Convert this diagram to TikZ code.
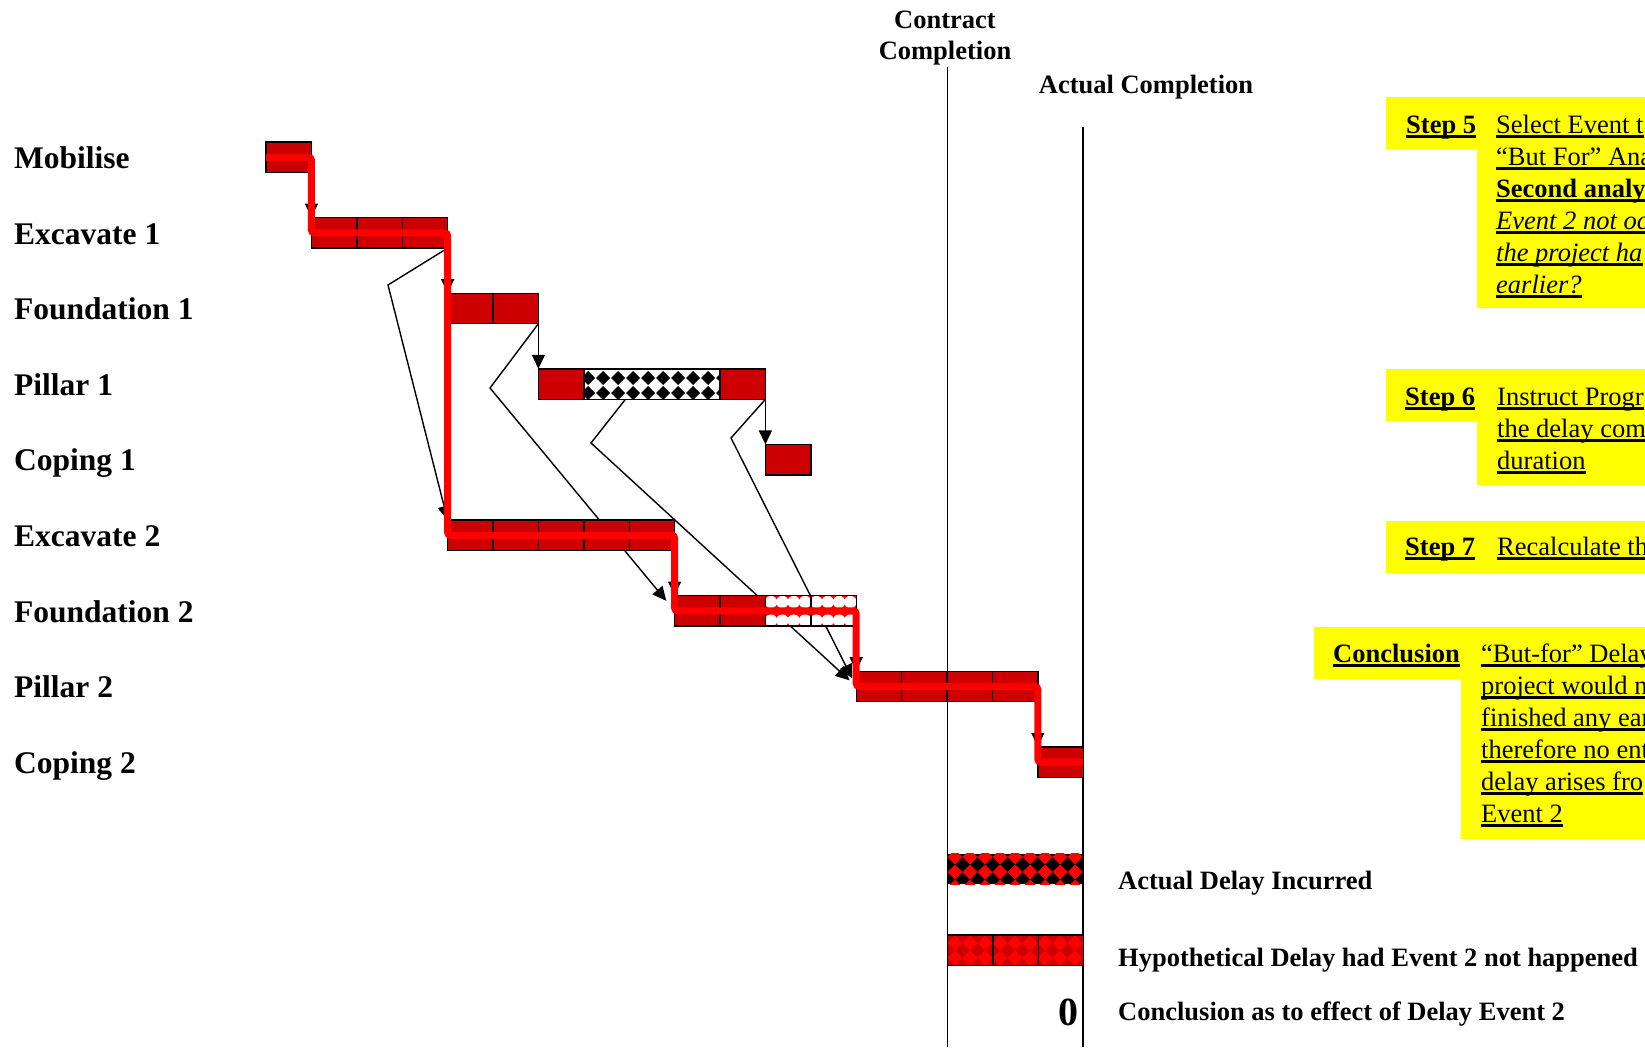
\documentclass[tikz,border=0pt]{standalone}
\usepackage{fontspec}
\setmainfont{Liberation Serif}
\usetikzlibrary{arrows.meta,calc}
\definecolor{barred}{HTML}{CC0000}
\definecolor{pathred}{HTML}{FF0000}
\definecolor{noteyellow}{HTML}{FFFF00}
\pgfdeclarelayer{links}
\pgfsetlayers{links,main}
% programme grid: cell width, origin, row pitch, bar height
\newcommand\gcw{45.4}
\newcommand\gxo{266}
\newcommand\gyo{142}
\newcommand\grs{75.6}
\newcommand\gbh{30.5}
% #1 name, #2 first cell, #3 number of cells, #4 row
\newcommand\gbar[4]{\node[barbox, minimum width={#3*\gcw pt}] (#1) at ({\gxo+#2*\gcw},{\gyo+#4*\grs}) {};}
% cell dividers inside a bar
\newcommand\gdivs[2]{\foreach \gi in {#2}{\draw[cellline] ($(#1.north west)+({\gi*\gcw},0)$) -- ++(0,\gbh);}}
% diamond hatching: corners, background, diamond colour, first centre, half diagonal
\newcommand\dpattern[9]{%
  \begin{scope}
    \clip (#1,#2) rectangle (#3,#4);
    \fill[#5] (#1,#2) rectangle (#3,#4);
    \foreach \pcol in {-1,...,10}{\foreach \prow in {-1,...,2}{%
      \fill[#6] ({#7+15*\pcol-#9},{#8+15*\prow}) -- ++(#9,-#9) -- ++(#9,#9) -- ++(-#9,#9) -- cycle;}}
  \end{scope}}
\tikzset{
  barbox/.style={draw=black, line width=1.4pt, fill=barred, inner sep=0pt, outer sep=0pt,
    minimum height=30.5pt, anchor=north west},
  plainbox/.style={inner sep=0pt, outer sep=0pt, minimum height=30.5pt, anchor=north west},
  cellline/.style={draw=black, line width=1.4pt},
  link/.style={draw=black, line width=1.4pt, -{Triangle[length=14pt,width=13pt]}},
  critpath/.style={draw=pathred, line width=7pt, rounded corners=3pt},
  compline/.style={draw=black, line width=1.8pt},
  ulrule/.style={draw=black, line width=2.4pt},
  rowlbl/.style={anchor=base west, inner sep=0pt, font=\fontsize{31.5}{36}\selectfont\bfseries},
  hdr/.style={anchor=base, inner sep=0pt, font=\fontsize{26.5}{30}\selectfont\bfseries},
  sidelbl/.style={anchor=base west, inner sep=0pt, font=\fontsize{26.5}{30}\selectfont\bfseries},
  notelbl/.style={anchor=base west, inner sep=0pt, font=\fontsize{26.5}{30}\selectfont\bfseries},
  notetxt/.style={anchor=base west, inner sep=0pt, font=\fontsize{26.5}{30}\selectfont},
  noteit/.style={anchor=base west, inner sep=0pt, font=\fontsize{26.5}{30}\selectfont\itshape},
}
\begin{document}
\begin{tikzpicture}[x=1pt,y=-1pt]
\useasboundingbox (0,0) rectangle (1645,1047);
\begin{scope}
\clip (0,0) rectangle (1645,1047);

% activity bars
\gbar{mob}{0}{1}{0}
\gbar{exc1}{1}{3}{1} \gdivs{exc1}{1,2}
\gbar{fdn1}{4}{2}{2} \gdivs{fdn1}{1}
\gbar{pil1}{6}{5}{3}
\dpattern{583.8}{368.8}{720}{399.3}{white}{black}{588}{378}{7}
\draw[cellline] (pil1.north west) rectangle (pil1.south east);
\gdivs{pil1}{1,4}
\gbar{cop1}{11}{1}{4}
\gbar{exc2}{4}{5}{5} \gdivs{exc2}{1,2,3,4}
\gbar{fdn2}{9}{4}{6}
\begin{scope}
  \clip (765.4,595.6) rectangle (856.2,626.1);
  \fill[pathred] (765.4,595.6) rectangle (856.2,626.1);
  \foreach \pcol in {0,...,8}{
    \fill[white] ({771+11.35*\pcol},602) circle (6.2pt);
    \fill[white] ({771+11.35*\pcol},620.5) circle (6.2pt);}
\end{scope}
\draw[cellline] (fdn2.north west) rectangle (fdn2.south east);
\gdivs{fdn2}{1,2,3}
\gbar{pil2}{13}{4}{7} \gdivs{pil2}{1,2,3}
\gbar{cop2}{17}{1}{8}

% delay bars below the programme
\dpattern{947.4}{853.5}{1083.2}{884}{black}{pathred}{955}{857}{7.5}
\node[plainbox, minimum width=135.8pt] (actd) at (947.4,853.5) {};
\dpattern{947.4}{935}{1083.2}{965.5}{barred}{pathred}{955}{943}{7.5}
\node[plainbox, draw=black, line width=1.4pt, minimum width=135.8pt] (hypd) at (947.4,935) {};
\gdivs{hypd}{1,2}

% bend points of the logic links
\coordinate (k1) at (388,285);
\coordinate (k2) at (490,388);
\coordinate (k3) at (591,443);
\coordinate (k4) at (731,438);

\begin{pgfonlayer}{links}
  \draw[compline] (947.4,67) -- (947.4,1047);
  \draw[compline] (1083.2,127) -- (1083.2,1047);
  \draw[link] (mob.south east) -- (exc1.north west);
  \draw[link] (exc1.south east) -- (fdn1.north west);
  \draw[link] (fdn1.south east) -- (pil1.north west);
  \draw[link] (pil1.south east) -- (cop1.north west);
  \draw[link] (exc2.south east) -- (fdn2.north west);
  \draw[link] (fdn2.south east) -- (pil2.north west);
  \draw[link] (pil2.south east) -- (cop2.north west);
  \draw[link] (exc1.south east) -- (k1) -- (exc2.north west);
  \draw[link, shorten >=13pt] (fdn1.south east) -- (k2) -- (fdn2.west);
  \draw[link, shorten >=9pt] (pil1.south west) ++(87,0) -- (k3) -- (pil2.west);
  \draw[link, shorten >=9pt] (pil1.south east) -- (k4) -- (pil2.west);
\end{pgfonlayer}

% critical path
\draw[critpath] (mob.west) -- (mob.east) -- (exc1.west) -- (exc1.east) -- (exc2.west)
  -- (exc2.east) -- (fdn2.west) -- (fdn2.east) -- (pil2.west) -- (pil2.east)
  -- (cop2.west) -- (cop2.east);

% activity names
\foreach \txt [count=\r from 0] in {Mobilise, Excavate 1, Foundation 1, Pillar 1, Coping 1,
    Excavate 2, Foundation 2, Pillar 2, Coping 2}
  \node[rowlbl] (row\r) at (14,{168.4+75.6*\r}) {\txt};

% completion headings
\node[hdr] (cc1) at (945,28) {Contract};
\node[hdr] (cc2) at (945,59) {Completion};
\node[hdr] (acomp) at (1146,93) {Actual Completion};

% delay legend
\node[sidelbl] (tact) at (1118,889) {Actual Delay Incurred};
\node[sidelbl] (thyp) at (1118,966) {Hypothetical Delay had Event 2 not happened};
\node[sidelbl] (tcon) at (1118,1020) {Conclusion as to effect of Delay Event 2};
\node[anchor=base, inner sep=0pt, font=\fontsize{40}{44}\selectfont\bfseries] (zero) at (1068,1025) {0};

% step notes
\fill[noteyellow] (1386,97) -- (1645,97) -- (1645,308) -- (1477,308) -- (1477,149) -- (1386,149) -- cycle;
\fill[noteyellow] (1386,369) -- (1645,369) -- (1645,485) -- (1477,485) -- (1477,421) -- (1386,421) -- cycle;
\fill[noteyellow] (1386,521) rectangle (1645,573);
\fill[noteyellow] (1314,627) -- (1645,627) -- (1645,839) -- (1461,839) -- (1461,679) -- (1314,679) -- cycle;

\node[notelbl] (s5) at (1406,133) {Step 5};
\node[notetxt] (s5a) at (1496,133) {Select Event t};
\node[notetxt] (s5b) at (1496,165) {“But For” Ana};
\node[notelbl] (s5c) at (1496,197) {Second analy};
\node[noteit] (s5d) at (1496,229) {Event 2 not oc};
\node[noteit] (s5e) at (1496,261) {the project ha};
\node[noteit] (s5f) at (1496,293) {earlier?};

\node[notelbl] (s6) at (1405,405) {Step 6};
\node[notetxt] (s6a) at (1497,405) {Instruct Progr};
\node[notetxt] (s6b) at (1497,437) {the delay com};
\node[notetxt] (s6c) at (1497,469) {duration};

\node[notelbl] (s7) at (1405,555) {Step 7};
\node[notetxt] (s7a) at (1497,555) {Recalculate th};

\node[notelbl] (cl) at (1333,662) {Conclusion};
\node[notetxt] (cla) at (1481,662) {“But-for” Delay};
\node[notetxt] (clb) at (1481,694) {project would n};
\node[notetxt] (clc) at (1481,726) {finished any ear};
\node[notetxt] (cld) at (1481,758) {therefore no ent};
\node[notetxt] (cle) at (1481,790) {delay arises fro};
\node[notetxt] (clf) at (1481,822) {Event 2};

% underlining of the note texts
\foreach \nn in {s5,s5a,s5b,s5c,s5d,s5e,s5f,s6,s6a,s6b,s6c,s7,s7a,cl,cla,clb,clc,cld,cle,clf}
  \draw[ulrule] ($(\nn.base west)+(0,3.5)$) -- ($(\nn.base east)+(0,3.5)$);
\end{scope}
\end{tikzpicture}
\end{document}
